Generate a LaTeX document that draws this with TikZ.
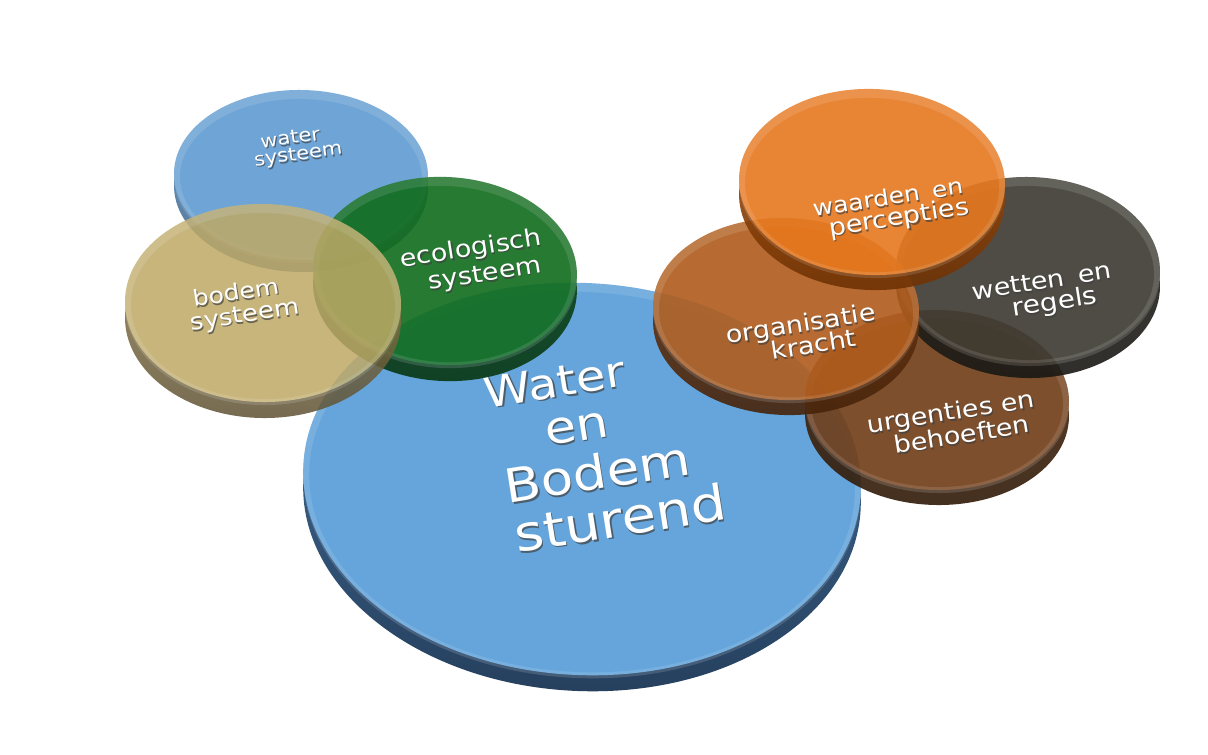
\documentclass[tikz,border=0pt]{standalone}
\usepackage{fontspec}
\setmainfont{DejaVu Sans}
\definecolor{bigface}{RGB}{101,165,219}
\definecolor{bigsideA}{RGB}{70,115,160}
\definecolor{bigsideB}{RGB}{38,64,94}
\definecolor{waface}{RGB}{86,150,207}
\definecolor{wasideA}{RGB}{80,135,185}
\definecolor{wasideB}{RGB}{55,95,135}
\definecolor{ecface}{RGB}{16,108,28}
\definecolor{ecsideA}{RGB}{15,80,28}
\definecolor{ecsideB}{RGB}{8,55,18}
\definecolor{boface}{RGB}{190,169,102}
\definecolor{bosideA}{RGB}{150,130,80}
\definecolor{bosideB}{RGB}{95,82,52}
\definecolor{waaface}{RGB}{230,120,30}
\definecolor{waasideA}{RGB}{170,80,10}
\definecolor{waasideB}{RGB}{110,50,5}
\definecolor{weface}{RGB}{60,57,49}
\definecolor{wesideA}{RGB}{42,40,34}
\definecolor{wesideB}{RGB}{25,24,20}
\definecolor{orface}{RGB}{176,92,28}
\definecolor{orsideA}{RGB}{115,58,16}
\definecolor{orsideB}{RGB}{70,35,10}
\definecolor{urface}{RGB}{112,60,22}
\definecolor{ursideA}{RGB}{78,42,14}
\definecolor{ursideB}{RGB}{48,26,8}
\tikzset{
  bigF/.style={fill=bigface}, bigS/.style={top color=bigsideA, bottom color=bigsideB},
  waF/.style={fill=waface}, waS/.style={top color=wasideA, bottom color=wasideB},
  ecF/.style={fill=ecface}, ecS/.style={top color=ecsideA, bottom color=ecsideB},
  boF/.style={fill=boface}, boS/.style={top color=bosideA, bottom color=bosideB},
  waaF/.style={fill=waaface}, waaS/.style={top color=waasideA, bottom color=waasideB},
  weF/.style={fill=weface}, weS/.style={top color=wesideA, bottom color=wesideB},
  orF/.style={fill=orface}, orS/.style={top color=orsideA, bottom color=orsideB},
  urF/.style={fill=urface}, urS/.style={top color=ursideA, bottom color=ursideB},
  lbltx/.style={text=white, anchor=base, inner sep=0pt},
  lblsh/.style={text=black!75, text opacity=0.7, anchor=base, inner sep=0pt},
}
% cx, cy, rx, ry, rot, thickness, face style, side style, opacity
\newcommand\mydisk[9]{%
  \begin{scope}[transparency group, opacity=#9]
    \path[#8, shift={(#1,#2+#6)}, rotate=#5] (0,0) ellipse [x radius=#3pt, y radius=#4pt];
    \path[#8, fill opacity=0.18, fill=white, shift={(#1,#2+3)}, rotate=#5] (0,0) ellipse [x radius=#3pt, y radius=#4pt];
    \path[#7, shift={(#1,#2)}, rotate=#5] (0,0) ellipse [x radius=#3pt, y radius=#4pt];
    \path[#7, fill opacity=0.12, fill=white, shift={(#1,#2)}, rotate=#5] (0,0) ellipse [x radius=#3pt, y radius=#4pt];
    \path[#7, shift={(#1,#2+3)}, rotate=#5] (0,0) ellipse [x radius=#3pt-6pt, y radius=#4pt-6pt];
  \end{scope}}
% name, x, y, rotation, size, text
\newcommand\lbl[6]{%
  \node[lblsh, rotate=#4, yscale=0.88, font=\fontsize{#5}{#5}\selectfont] (#1-s) at (#2+1.2,#3+1.8) {#6};
  \node[lbltx, rotate=#4, yscale=0.88, font=\fontsize{#5}{#5}\selectfont] (#1) at (#2,#3) {#6};}
\begin{document}
\begin{tikzpicture}[x=1pt,y=-1pt]
\useasboundingbox (0,0) rectangle (1208,755);
\fill[white] (0,0) rectangle (1208,755);

% central disk
\mydisk{582}{479}{279}{196}{-3}{16}{bigF}{bigS}{1}
\lbl{bigA}{557}{397}{9}{48}{Water}
\lbl{bigB}{579}{441}{9}{51}{en}
\lbl{bigC}{600}{489}{9}{53}{Bodem}
\lbl{bigD}{623}{536}{9}{56}{sturend}

% left cluster
\mydisk{301}{175}{127}{85}{-1}{12}{waF}{waS}{0.85}
\lbl{wa1}{291}{144}{8}{21}{water}
\lbl{wa2}{299}{160}{8}{21}{systeem}

\mydisk{445}{271}{132}{94}{-3}{16}{ecF}{ecS}{0.9}
\lbl{ec1}{472}{256}{9}{27}{ecologisch}
\lbl{ec2}{486}{281}{9}{27}{systeem}

\mydisk{263}{303}{138}{99}{-1}{16}{boF}{boS}{0.85}
\lbl{bo1}{237}{300}{9}{25}{bodem}
\lbl{bo2}{246}{322}{9}{26}{systeem}

% right cluster
\mydisk{937}{400}{132}{90}{-1}{15}{urF}{urS}{0.9}
\lbl{ur1}{952}{420}{9}{27}{urgenties en}
\lbl{ur2}{963}{443}{9}{27}{behoeften}

\mydisk{1028}{270}{132}{93}{-1}{15}{weF}{weS}{0.9}
\lbl{we1}{1043}{289}{9}{27}{wetten\hspace{0.5em}en}
\lbl{we2}{1056}{310}{9}{28}{regels}

\mydisk{786}{309}{133}{91}{-2}{15}{orF}{orS}{0.9}
\lbl{or1}{802}{332}{9}{27}{organisatie}
\lbl{or2}{815}{353}{9}{27}{kracht}

\mydisk{872}{182}{133}{93}{-2}{15}{waaF}{waaS}{0.9}
\lbl{wp1}{889}{205}{9}{25}{waarden\hspace{0.5em}en}
\lbl{wp2}{900}{225}{9}{27}{percepties}
\end{tikzpicture}
\end{document}
